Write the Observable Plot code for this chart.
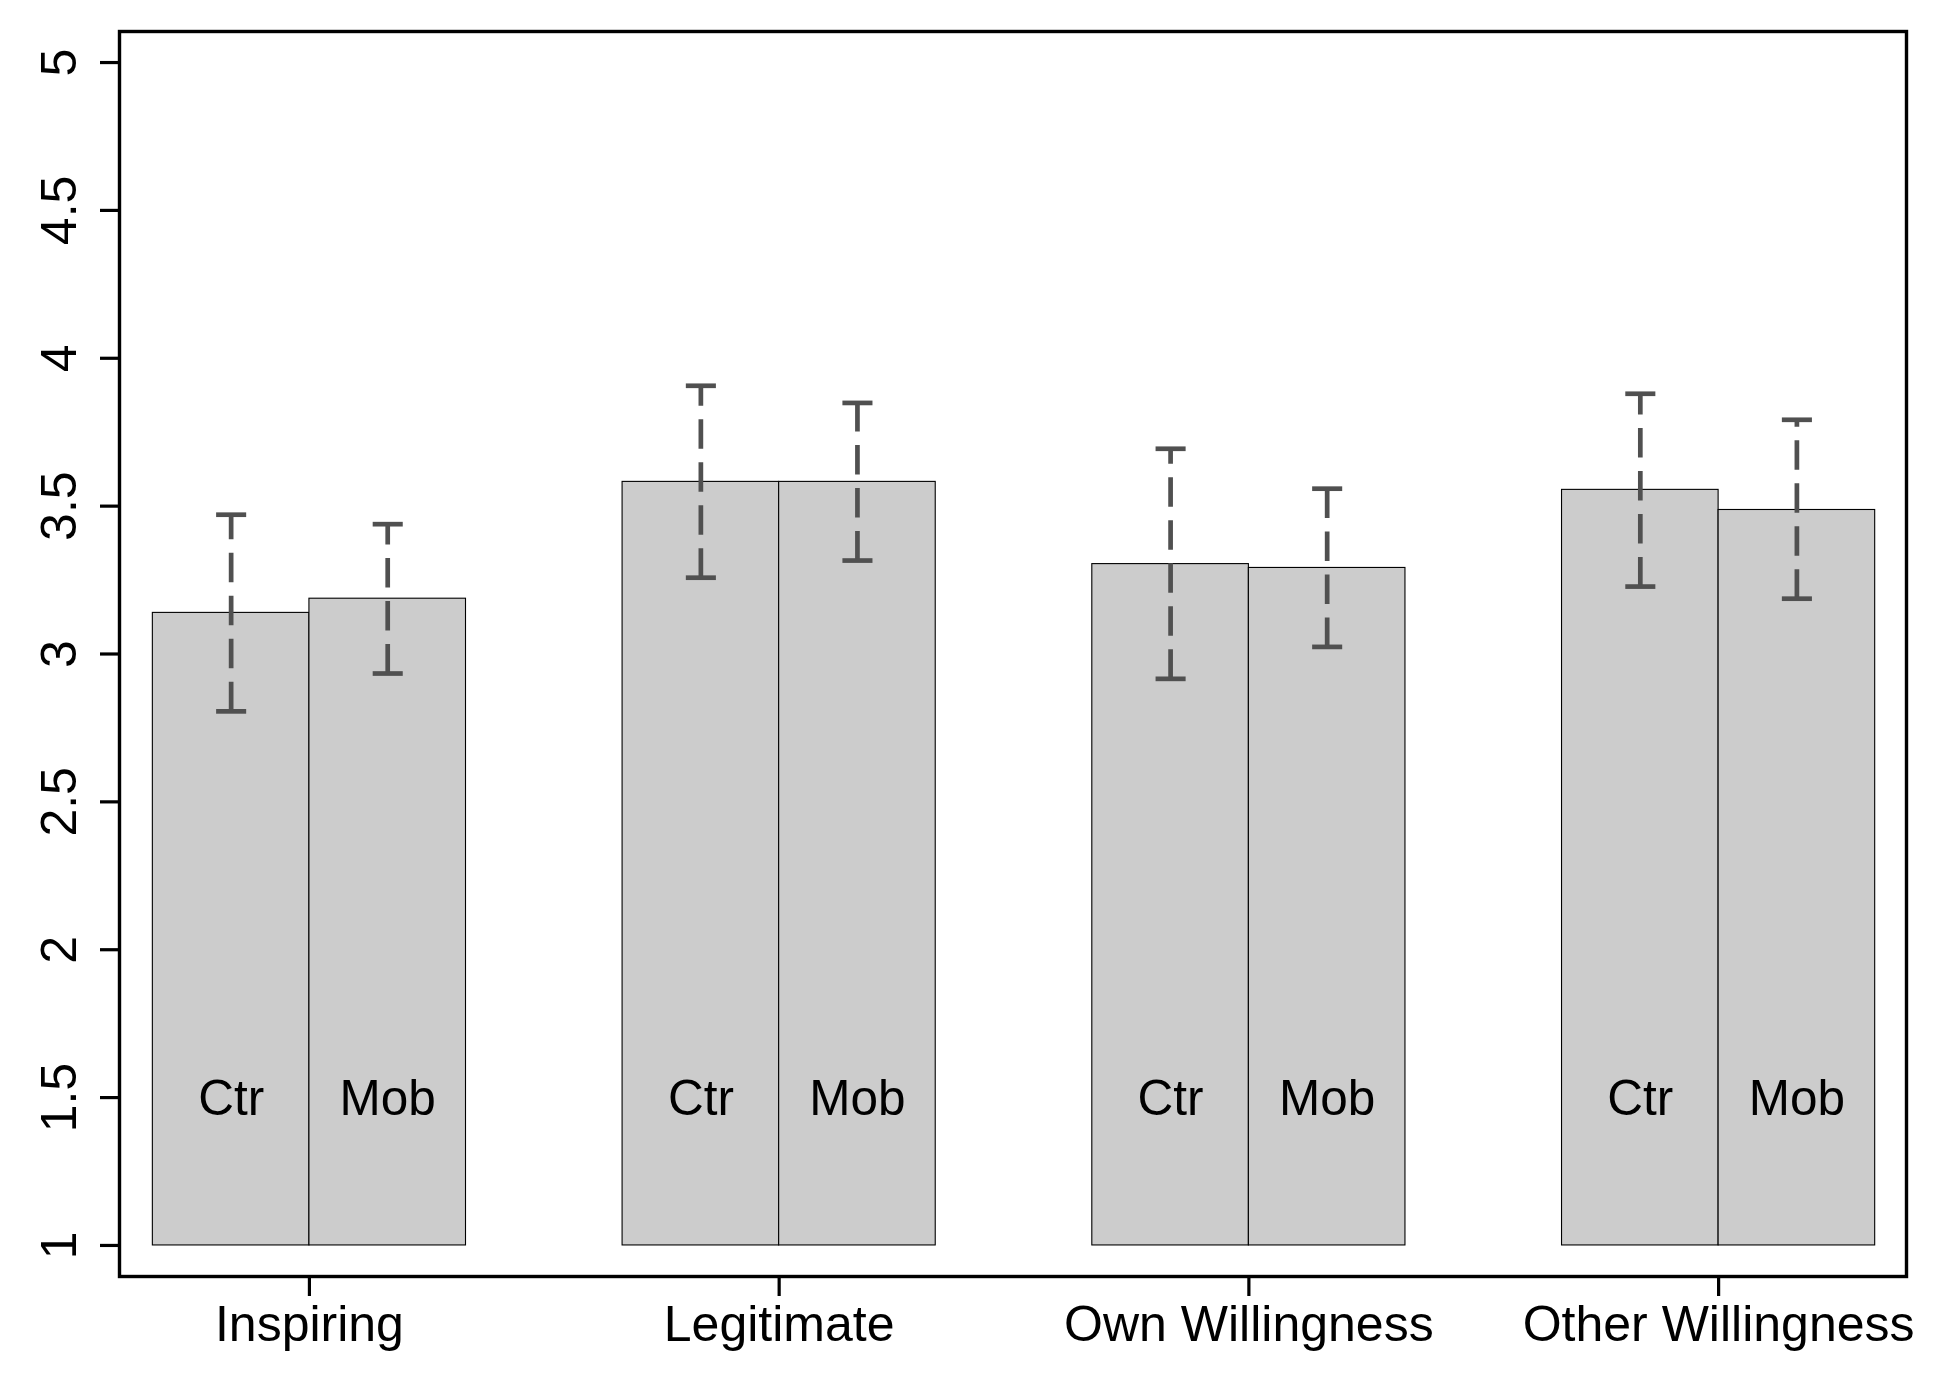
<!DOCTYPE html>
<html>
<head>
<meta charset="utf-8">
<script src="https://cdn.jsdelivr.net/npm/d3@7"></script>
<script src="https://cdn.jsdelivr.net/npm/@observablehq/plot@0.6"></script>
<style>
  html, body { margin: 0; padding: 0; background: #ffffff; }
  #chart svg { display: block; }
</style>
</head>
<body>
<div id="chart"></div>
<script>
// ---- data ----
const categories = ["Inspiring", "Legitimate", "Own Willingness", "Other Willingness"];
const conditions = ["Ctr", "Mob"];
const meanCtr  = [3.139, 3.582, 3.304, 3.555];
const meanMob  = [3.187, 3.582, 3.291, 3.487];
const upperCtr = [3.471, 3.907, 3.694, 3.880];
const upperMob = [3.439, 3.849, 3.559, 3.792];
const lowerCtr = [2.806, 3.258, 2.916, 3.228];
const lowerMob = [2.934, 3.316, 3.024, 3.187];
const yTicks = [1, 1.5, 2, 2.5, 3, 3.5, 4, 4.5, 5];
const yTickLabels = ["1", "1.5", "2", "2.5", "3", "3.5", "4", "4.5", "5"];
const baseline = 1;

// ---- table built from arrays (bar slots: 2 bars + 1 gap per group) ----
const means = [meanCtr, meanMob];
const uppers = [upperCtr, upperMob];
const lowers = [lowerCtr, lowerMob];
const rows = [];
categories.forEach((cat, i) => {
  conditions.forEach((cond, j) => {
    const start = 1 + 3 * i + j;
    rows.push({
      category: cat, condition: cond,
      x1: start, x2: start + 1, xc: start + 0.5,
      mean: means[j][i], hi: uppers[j][i], lo: lowers[j][i]
    });
  });
});
const groupCenters = categories.map((d, i) => 2 + 3 * i);
const capHalf = 0.096;

const font = "'Liberation Sans', Arial, Helvetica, sans-serif";
const errColor = "#505050";

const chart = Plot.plot({
  width: 1948,
  height: 1379,
  marginLeft: 119,
  marginRight: 42,
  marginTop: 31,
  marginBottom: 103,
  style: { fontFamily: font, fontSize: "50px", background: "#ffffff", color: "#000000" },
  x: { type: "linear", domain: [0.787, 12.2], label: null },
  y: { type: "linear", domain: [0.895, 5.105], label: null },
  marks: [
    Plot.rect(rows, {
      x1: "x1", x2: "x2", y1: () => baseline, y2: "mean",
      fill: "#cccccc", stroke: "#000000", strokeWidth: 1.1
    }),
    Plot.text(rows, {
      x: "xc", y: () => 1.5, text: "condition",
      fontSize: 49.5, lineAnchor: "middle", dy: 2, fill: "#000000"
    }),
    Plot.link(rows, {
      x1: "xc", x2: "xc", y1: "lo", y2: "hi",
      stroke: errColor, strokeWidth: 4.7, strokeDasharray: "29.5,13.5", strokeLinecap: "butt"
    }),
    Plot.link(rows, {
      x1: d => d.xc - capHalf, x2: d => d.xc + capHalf, y1: "hi", y2: "hi",
      stroke: errColor, strokeWidth: 4.7, strokeLinecap: "butt"
    }),
    Plot.link(rows, {
      x1: d => d.xc - capHalf, x2: d => d.xc + capHalf, y1: "lo", y2: "lo",
      stroke: errColor, strokeWidth: 4.7, strokeLinecap: "butt"
    }),
    Plot.frame({ stroke: "#000000", strokeWidth: 3.4 }),
    Plot.axisY(yTicks, { tickSize: 19, tickFormat: () => "", strokeWidth: 3.2, label: null }),
    Plot.text(yTicks, {
      y: d => d, text: (d, i) => yTickLabels[i],
      frameAnchor: "left", dx: -44, rotate: -90,
      textAnchor: "middle", lineAnchor: "bottom", fontSize: 50, fill: "#000000"
    }),
    Plot.axisX(groupCenters, { tickSize: 20, tickFormat: () => "", strokeWidth: 3.2, label: null }),
    Plot.text(categories, {
      x: (d, i) => groupCenters[i], text: d => d,
      frameAnchor: "bottom", dy: 64, lineAnchor: "bottom",
      textAnchor: "middle", fontSize: 50, fill: "#000000"
    })
  ]
});
document.getElementById("chart").appendChild(chart);
</script>
</body>
</html>
